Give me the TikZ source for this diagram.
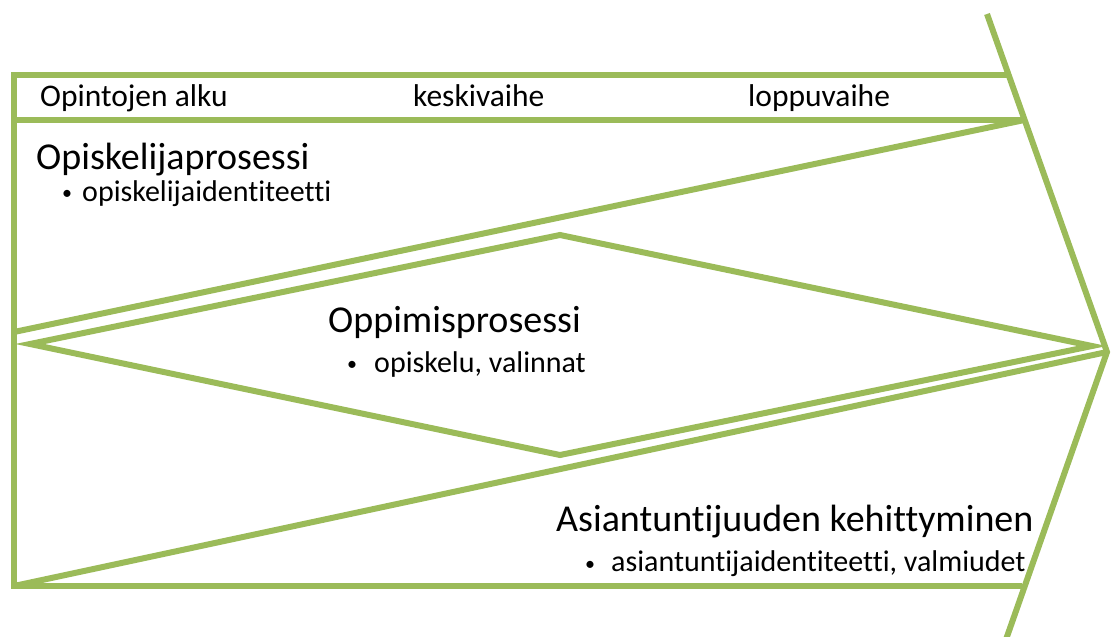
\documentclass[tikz,border=0pt]{standalone}
\usepackage{fontspec}
\setmainfont{Carlito}[Ligatures={NoCommon}]
\definecolor{grn}{HTML}{9BBB59}
\begin{document}
\begin{tikzpicture}[x=1pt,y=-1pt,
  gline/.style={draw=grn,line width=6pt,line cap=butt,line join=miter},
  band/.style={anchor=base west,inner sep=0pt,font=\fontsize{31.5}{34}\selectfont},
  head/.style={anchor=base west,inner sep=0pt,font=\fontsize{38}{42}\selectfont},
  item/.style={anchor=base west,inner sep=0pt,font=\fontsize{30}{33}\selectfont},
  bul/.style={anchor=center,inner sep=0pt,font=\fontsize{20}{22}\selectfont}]
\useasboundingbox (0,0) rectangle (1117,637);
% coordinates
\coordinate (TL) at (14,75);
\coordinate (TR) at (1008.5,75);
\coordinate (ML) at (14,120);
\coordinate (MR) at (1024.4,120);
\coordinate (BL) at (14,586);
\coordinate (BR) at (1022,586);
\coordinate (A1) at (14,332);
\coordinate (CT) at (987,14);
\coordinate (CP) at (1107,352);
\coordinate (CB) at (1003,648);
\coordinate (DL) at (30,344);
\coordinate (DT) at (560,235);
\coordinate (DR) at (1092,346);
\coordinate (DB) at (560,455);
% frame
\draw[gline] (TR) -- (TL) -- (BL) -- (BR);
\draw[gline] (ML) -- (MR);
% triangles
\draw[gline] (A1) -- (MR);
\draw[gline] (BL) -- (CP);
% diamond
\draw[gline] (DL) -- (DT) -- (DR) -- (DB) -- cycle;
% chevron
\draw[gline] (CT) -- (CP) -- (CB);
% texts
\node[band] (t1) at (40,106) {Opintojen alku};
\node[band] (t2) at (413,106) {keskivaihe};
\node[band] (t3) at (748,106) {loppuvaihe};
\node[head] (h1) at (36,169) {Opiskelijaprosessi};
\node[bul] (b1) at (67,195) {•};
\node[item] (i1) at (82,201.7) {opiskelijaidentiteetti};
\node[head] (h2) at (328,332) {Oppimisprosessi};
\node[bul] (b2) at (352,365.5) {•};
\node[item] (i2) at (374,372) {opiskelu, valinnat};
\node[head] (h3) at (556,531.5) {Asiantuntijuuden kehittyminen};
\node[bul] (b3) at (590,565.5) {•};
\node[item] (i3) at (611,571.7) {asiantuntijaidentiteetti, valmiudet};
\end{tikzpicture}
\end{document}
